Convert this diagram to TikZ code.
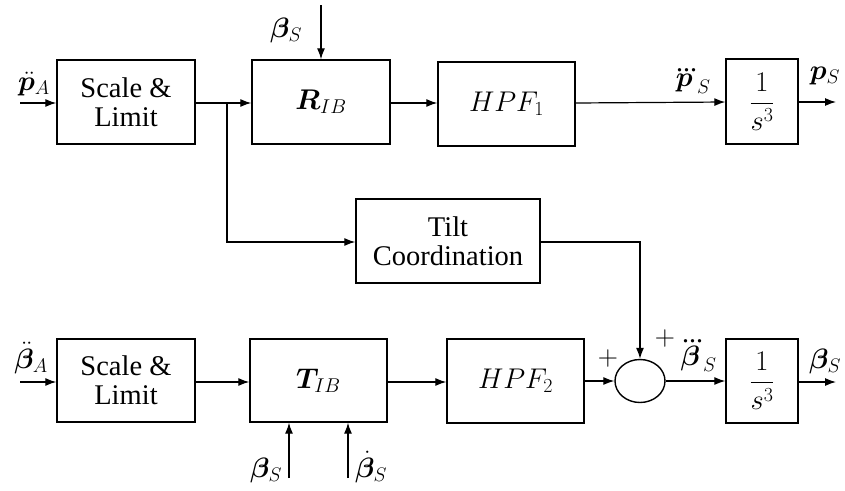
\RequirePackage{fix-cm}
\documentclass[tikz,border=0pt]{standalone}
\usepackage{amsmath}
\usepackage{bm}
\usepackage{fontspec}
\setmainfont{Liberation Serif}
\usetikzlibrary{arrows.meta,shapes.geometric}
\tikzset{
  blk/.style={draw, line width=1.4pt, align=center, inner sep=0pt,
    font=\fontsize{28.5pt}{32pt}\selectfont},
  lab/.style={inner sep=0pt, font=\fontsize{28pt}{32pt}\selectfont},
  sig/.style={line width=1.2pt, -{Latex[length=11pt,width=8pt]}},
}
\begin{document}
\begin{tikzpicture}[x=1pt,y=-1pt]
\useasboundingbox (0,0) rectangle (845,490);
% top row
\node[blk, minimum width=138pt, minimum height=84pt] (sl1) at (126,102) {Scale \&\\[-3pt]Limit};
\node[blk, minimum width=138pt, minimum height=84pt] (rib) at (321,102) {$\bm{R}_{IB}$};
\node[blk, minimum width=137pt, minimum height=84pt] (hpf1) at (506.5,104) {$HPF_1$};
\node[blk, minimum width=72pt, minimum height=85pt] (int1) at (762,101.5) {$\dfrac{1}{s^3}$};
% middle
\node[blk, minimum width=184pt, minimum height=84pt] (tilt) at (448,241) {Tilt\\[-3pt]Coordination};
% bottom row
\node[blk, minimum width=138pt, minimum height=83pt] (sl2) at (126,380.5) {Scale \&\\[-3pt]Limit};
\node[blk, minimum width=137pt, minimum height=83pt] (tib) at (318.5,380.5) {$\bm{T}_{IB}$};
\node[blk, minimum width=137pt, minimum height=84pt] (hpf2) at (515.5,381) {$HPF_2$};
\node[draw, ellipse, line width=1.4pt, minimum width=50pt, minimum height=43pt, inner sep=0pt] (sum) at (640,381) {};
\node[blk, minimum width=72pt, minimum height=84pt] (int2) at (762,381) {$\dfrac{1}{s^3}$};
% free ends
\coordinate (inA) at (20,103);
\coordinate (bsTop) at (321,5);
\coordinate (outP) at (836,102);
\coordinate (br) at (227,103);
\coordinate (brD) at (227,242);
\coordinate (tc) at (640,242);
\coordinate (inB) at (20,382);
\coordinate (outB) at (836,382);
\coordinate (bs1) at (289,478);
\coordinate (bs2) at (348,478);
% top connectors
\draw[sig] (inA) -- (sl1.west|-inA);
\draw[sig] (bsTop) -- (rib.north);
\draw[sig] (sl1.east|-br) -- (rib.west|-br);
\draw[sig] (rib.east|-br) -- (hpf1.west|-br);
\draw[sig] (hpf1.east|-br) -- (int1.west|-outP);
\draw[sig] (int1.east|-outP) -- (outP);
\draw[sig] (br) -- (brD) -- (tilt.west|-brD);
% bottom connectors
\draw[sig] (inB) -- (sl2.west|-inB);
\draw[sig] (sl2.east|-inB) -- (tib.west|-inB);
\draw[sig] (tib.east|-inB) -- (hpf2.west|-inB);
\draw[sig] (hpf2.east|-sum) -- (sum.west);
\draw[sig] (sum.east) -- (int2.west|-sum);
\draw[sig] (int2.east|-outB) -- (outB);
\draw[sig] (bs1) -- (tib.south-|bs1);
\draw[sig] (bs2) -- (tib.south-|bs2);
\draw[sig] (tilt.east|-tc) -- (tc) -- (sum.north);
% labels
\node[lab] (lpA) at (34,84) {$\ddot{\bm{p}}_A$};
\node[lab] (lbS1) at (286,30) {$\bm{\beta}_S$};
\node[lab] (lpS3) at (691,81) {$\dddot{\bm{p}}_S$};
\node[lab] (lpS) at (825,76) {$\bm{p}_S$};
\node[lab] (lbA) at (31,358) {$\ddot{\bm{\beta}}_A$};
\node[lab] (lbS2) at (266,470) {$\bm{\beta}_S$};
\node[lab] (lbS3) at (371,467) {$\dot{\bm{\beta}}_S$};
\node[lab] (plus1) at (608,358) {$+$};
\node[lab] (plus2) at (665,338) {$+$};
\node[lab] (lbS4) at (697,356) {$\dddot{\bm{\beta}}_S$};
\node[lab] (lbS5) at (825,361) {$\bm{\beta}_S$};
\end{tikzpicture}
\end{document}
